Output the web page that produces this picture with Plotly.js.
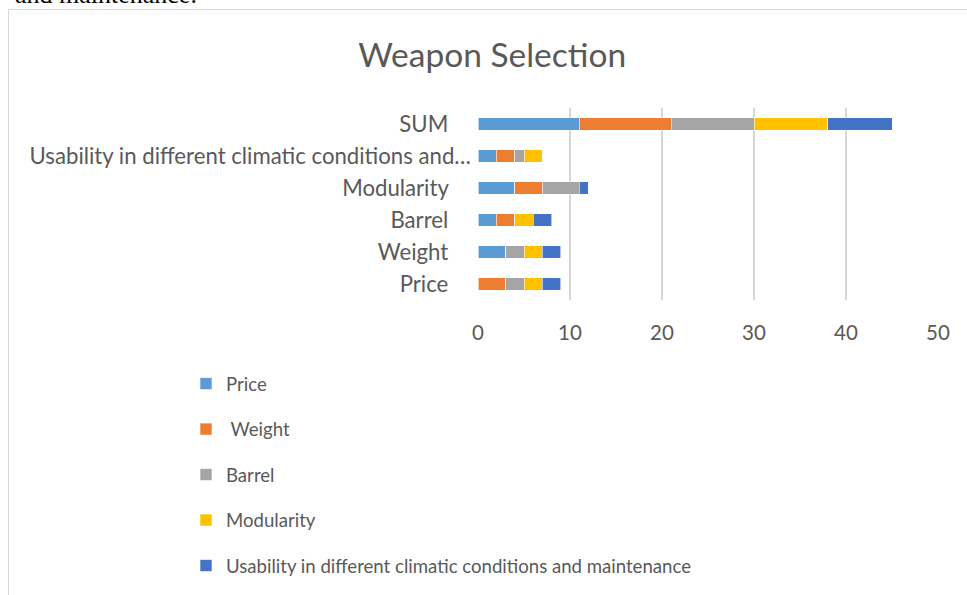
<!DOCTYPE html>
<html>
<head>
<meta charset="utf-8">
<script src="https://cdn.plot.ly/plotly-3.0.1.min.js"></script>
<style>
  html, body { margin: 0; padding: 0; background: #fff; overflow: hidden; }
  #chart { position: absolute; left: 0; top: 0; width: 967px; height: 595px; }
  #frame { position: absolute; left: 8px; top: 9px; width: 980px; height: 600px;
           border-top: 1.5px solid #d9d9d9; border-left: 1.5px solid #d9d9d9; pointer-events: none; }
</style>
</head>
<body>
<div id="chart"></div>
<div id="frame"></div>
<script>
// Categories (bottom to top on the chart)
const categories = ["Price", "Weight", "Barrel", "Modularity",
  "Usability in different climatic conditions and maintenance", "SUM"];
// Displayed (truncated) tick labels
const tickLabels = ["Price", "Weight", "Barrel", "Modularity",
  "Usability in different climatic conditions and…", "SUM"];

// Series names
const seriesNames = ["Price", " Weight", "Barrel", "Modularity",
  "Usability in different climatic conditions and maintenance"];

// Series values, one per category
const priceVals      = [0, 3, 2, 4, 2, 11];
const weightVals     = [3, 0, 2, 3, 2, 10];
const barrelVals     = [2, 2, 0, 4, 1, 9];
const modularityVals = [2, 2, 2, 0, 2, 8];
const usabilityVals  = [2, 2, 2, 1, 0, 7];

const seriesValues = [priceVals, weightVals, barrelVals, modularityVals, usabilityVals];
const colors = ["#5B9BD5", "#ED7D31", "#A5A5A5", "#FFC000", "#4472C4"];

const pad = "\u00a0\u00a0\u00a0\u00a0";
const shownTicks = tickLabels.map(t => t.endsWith("…") ? t : t + pad);

const traces = seriesNames.map((name, i) => ({
  type: "bar",
  orientation: "h",
  name: name,
  y: categories,
  x: seriesValues[i],
  legendgroup: "g" + i,
  marker: { color: colors[i], line: { color: "rgba(255,255,255,0.6)", width: 1 } },
  hoverinfo: "x+y+name"
}));

const fontFam = "Lato, 'Open Sans', sans-serif";
const layout = {
  width: 967, height: 595,
  paper_bgcolor: "rgba(0,0,0,0)",
  plot_bgcolor: "#fff",
  margin: { l: 478, r: 29, t: 108, b: 295, autoexpand: false },
  barmode: "stack",
  bargap: 0.6,
  font: { family: fontFam, color: "#595959" },
  title: {
    text: "Weapon Selection",
    font: { family: fontFam, size: 33.5, color: "#595959" },
    xref: "container", yref: "container",
    x: 0.509, xanchor: "center",
    y: 1 - 55 / 595, yanchor: "middle"
  },
  xaxis: {
    range: [0, 50], dtick: 10, tick0: 0,
    showgrid: true, gridcolor: "#d6d6d6", gridwidth: 1.3,
    zeroline: false, showline: false, ticks: "",
    automargin: false,
    ticklabelstandoff: 18,
    tickfont: { family: fontFam, size: 20.5, color: "#595959" },
    fixedrange: true
  },
  yaxis: {
    type: "category",
    categoryorder: "array", categoryarray: categories,
    tickvals: categories, ticktext: shownTicks,
    showgrid: false, zeroline: false, showline: false, ticks: "",
    automargin: false,
    ticklabelstandoff: 6,
    tickfont: { family: fontFam, size: 22.2, color: "#595959" },
    fixedrange: true
  },
  showlegend: true,
  legend: {
    orientation: "v",
    xref: "container", yref: "container",
    x: 186 / 967, xanchor: "left",
    y: 1 - 365 / 595, yanchor: "top",
    traceorder: "grouped",
    tracegroupgap: 18.3,
    font: { family: fontFam, size: 18.6, color: "#595959" },
    bgcolor: "rgba(0,0,0,0)"
  },
  annotations: [{
    text: "and maintenance.",
    xref: "paper", yref: "paper",
    x: (13 - 478) / 460, xanchor: "left",
    y: (300 - 11) / 192, yanchor: "bottom",
    showarrow: false,
    font: { family: "'Liberation Serif', 'DejaVu Serif', serif", size: 26, color: "#000" }
  }]
};

Plotly.newPlot("chart", traces, layout, { displayModeBar: false, staticPlot: true });
</script>
</body>
</html>
